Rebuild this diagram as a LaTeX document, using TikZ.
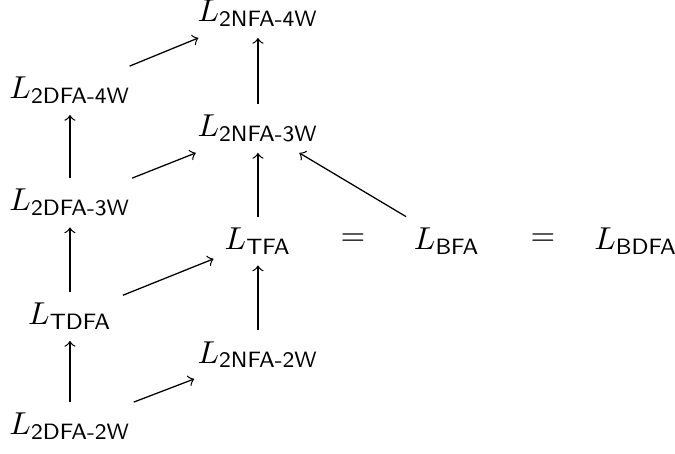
\documentclass[tikz,border=0pt]{standalone}
\usepackage{amsmath}

\begin{document}

\begin{tikzpicture}[> = to, lang/.style = {anchor = base}]

	\useasboundingbox (0, 0) rectangle (7.486, 5.024);

	% Deterministic two-way classes

	\node [lang] (dtwo) at (0.776, 0.200) {$L_{\textsf{2DFA-2W}}$};
	\node [lang] (tdfa) at (0.776, 1.420) {$L_{\textsf{TDFA}}$};
	\node [lang] (dthree) at (0.776, 2.684) {$L_{\textsf{2DFA-3W}}$};
	\node [lang] (dfour) at (0.776, 3.926) {$L_{\textsf{2DFA-4W}}$};

	% Nondeterministic classes

	\node [lang] (ntwo) at (2.861, 0.998) {$L_{\textsf{2NFA-2W}}$};
	\node [lang] (tfa) at (2.861, 2.257) {$L_{\textsf{TFA}}$};
	\node [lang] (nthree) at (2.861, 3.510) {$L_{\textsf{2NFA-3W}}$};
	\node [lang] (nfour) at (2.861, 4.780) {$L_{\textsf{2NFA-4W}}$};

	% Equal classes

	\node [lang] (eqa) at (3.915, 2.296) {$=$};
	\node [lang] (bfa) at (4.957, 2.257) {$L_{\textsf{BFA}}$};
	\node [lang] (eqb) at (6.022, 2.296) {$=$};
	\node [lang] (bdfa) at (7.053, 2.257) {$L_{\textsf{BDFA}}$};

	% Inclusions

	\begin{scope}[->]

		\draw (dtwo) -- (tdfa);
		\draw (tdfa) -- (dthree);
		\draw (dthree) -- (dfour);
		\draw (ntwo) -- (tfa);
		\draw (tfa) -- (nthree);
		\draw (nthree) -- (nfour);
		\draw (dtwo) -- (ntwo);
		\draw (tdfa) -- (tfa);
		\draw (dthree) -- (nthree);
		\draw (dfour) -- (nfour);
		\draw (bfa) -- (nthree);

	\end{scope}

\end{tikzpicture}

\end{document}
